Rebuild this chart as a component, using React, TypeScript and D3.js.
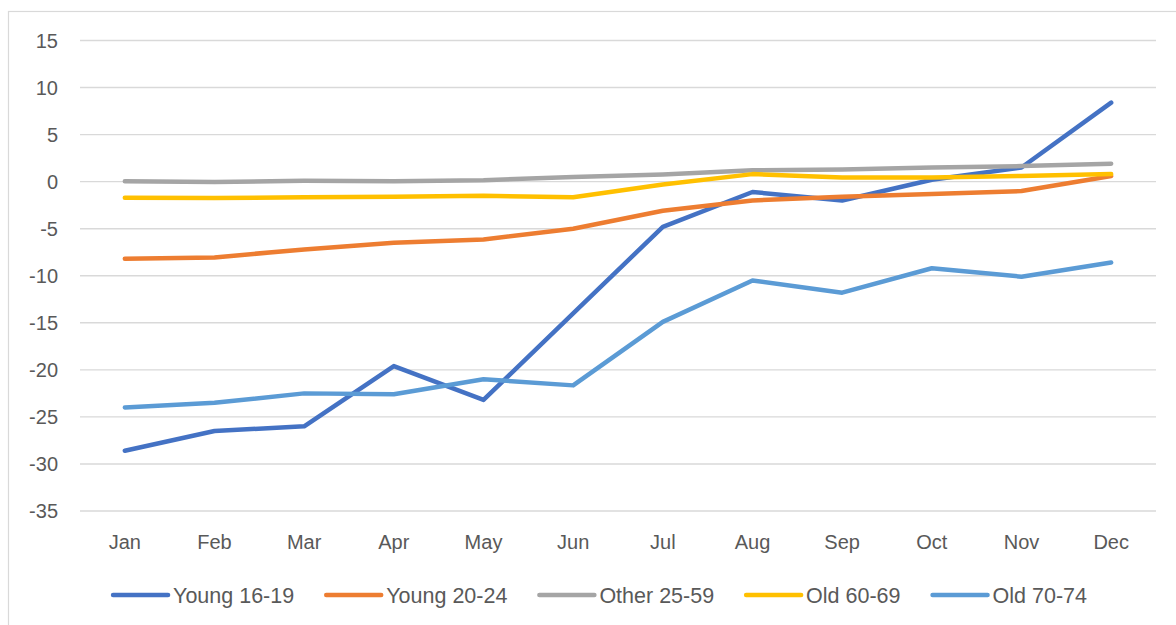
import React, { useEffect, useRef } from "react";
import * as d3 from "d3";

const months = ["Jan", "Feb", "Mar", "Apr", "May", "Jun", "Jul", "Aug", "Sep", "Oct", "Nov", "Dec"];

const young1619 = [-28.6, -26.5, -26.0, -19.6, -23.2, -14.0, -4.8, -1.1, -2.0, 0.2, 1.5, 8.4];
const young2024 = [-8.2, -8.05, -7.2, -6.5, -6.15, -5.0, -3.1, -2.0, -1.6, -1.3, -1.0, 0.6];
const other2559 = [0.05, -0.05, 0.1, 0.05, 0.15, 0.5, 0.75, 1.2, 1.3, 1.5, 1.65, 1.9];
const old6069 = [-1.7, -1.75, -1.65, -1.6, -1.5, -1.65, -0.3, 0.8, 0.45, 0.45, 0.6, 0.8];
const old7074 = [-24.0, -23.5, -22.5, -22.6, -21.0, -21.65, -14.9, -10.5, -11.8, -9.2, -10.1, -8.6];

const seriesNames = ["Young 16-19", "Young 20-24", "Other 25-59", "Old 60-69", "Old 70-74"];
const seriesValues = [young1619, young2024, other2559, old6069, old7074];
const seriesColors = ["#4472C4", "#ED7D31", "#A5A5A5", "#FFC000", "#5B9BD5"];

const yTicks = [15, 10, 5, 0, -5, -10, -15, -20, -25, -30, -35];

const App = () => {
  const ref = useRef<SVGSVGElement>(null);

  useEffect(() => {
    const width = 1176;
    const height = 625;
    const plot = { left: 80, right: 1156, top: 40.5, bottom: 511 };
    const font = "'Liberation Sans', Arial, sans-serif";

    const svg = d3.select(ref.current);
    svg.selectAll("*").remove();
    svg.attr("width", width).attr("height", height);

    svg.append("rect").attr("width", width).attr("height", height).attr("fill", "#fff");

    // chart frame
    svg
      .append("rect")
      .attr("x", 8.5)
      .attr("y", 11.5)
      .attr("width", 1200)
      .attr("height", 700)
      .attr("fill", "none")
      .attr("stroke", "#d9d9d9")
      .attr("stroke-width", 1.2);

    const x = d3.scaleBand().domain(months).range([plot.left, plot.right]);
    const y = d3.scaleLinear().domain([-35, 15]).range([plot.bottom, plot.top]);

    // gridlines
    svg
      .append("g")
      .selectAll("line")
      .data(yTicks)
      .join("line")
      .attr("x1", plot.left)
      .attr("x2", plot.right)
      .attr("y1", (d) => y(d))
      .attr("y2", (d) => y(d))
      .attr("stroke", "#d9d9d9")
      .attr("stroke-width", 1.4);

    // y labels
    svg
      .append("g")
      .selectAll("text")
      .data(yTicks)
      .join("text")
      .attr("x", 58)
      .attr("y", (d) => y(d))
      .attr("dy", "0.35em")
      .attr("text-anchor", "end")
      .attr("font-family", font)
      .attr("font-size", 20)
      .attr("fill", "#595959")
      .text((d) => d);

    // x labels
    svg
      .append("g")
      .selectAll("text")
      .data(months)
      .join("text")
      .attr("x", (d) => x(d)! + x.bandwidth() / 2)
      .attr("y", 549)
      .attr("text-anchor", "middle")
      .attr("font-family", font)
      .attr("font-size", 20)
      .attr("fill", "#595959")
      .text((d) => d);

    // lines
    const line = d3
      .line<number>()
      .x((_, i) => x(months[i])! + x.bandwidth() / 2)
      .y((d) => y(d));

    seriesValues.forEach((vals, i) => {
      svg
        .append("path")
        .datum(vals)
        .attr("d", line)
        .attr("fill", "none")
        .attr("stroke", seriesColors[i])
        .attr("stroke-width", 4.5)
        .attr("stroke-linecap", "round")
        .attr("stroke-linejoin", "round");
    });

    // legend
    const legend = svg.append("g");
    const items = seriesNames.map((name, i) => {
      const g = legend.append("g");
      g.append("line")
        .attr("x1", 0)
        .attr("x2", 55)
        .attr("y1", 0)
        .attr("y2", 0)
        .attr("stroke", seriesColors[i])
        .attr("stroke-width", 4.5)
        .attr("stroke-linecap", "round");
      const t = g
        .append("text")
        .attr("x", 60)
        .attr("dy", "0.35em")
        .attr("font-family", font)
        .attr("font-size", 21.5)
        .attr("fill", "#595959")
        .text(name);
      const w = (t.node() as SVGTextElement).getComputedTextLength();
      return { g, w: 60 + w };
    });
    const gap = 32;
    const total = d3.sum(items, (d) => d.w) + gap * (items.length - 1);
    let cx = 600 - total / 2;
    items.forEach((it) => {
      it.g.attr("transform", `translate(${cx},595)`);
      cx += it.w + gap;
    });
  }, []);

  return <svg ref={ref} style={{ position: "absolute", left: 0, top: 0 }} />;
};

export default App;
